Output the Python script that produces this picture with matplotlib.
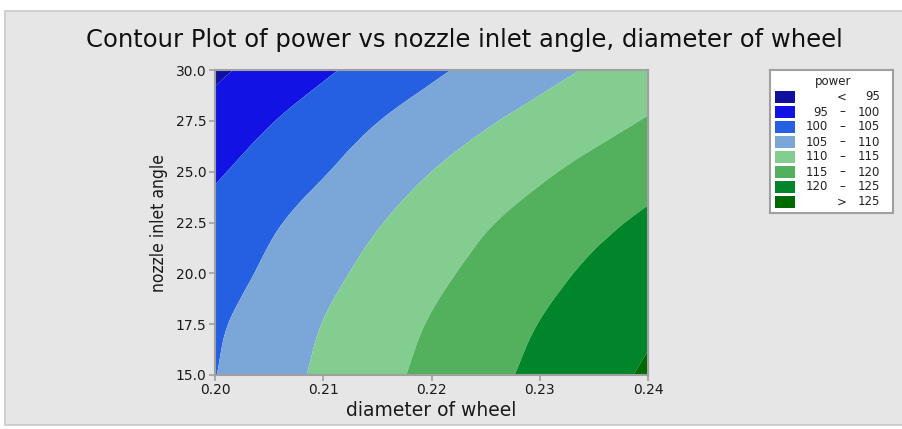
import matplotlib
matplotlib.use('Agg')
import matplotlib.pyplot as plt
import matplotlib.tri as mtri
from matplotlib.patches import Rectangle
import numpy as np

# grid of power estimates
diameter = [0.200, 0.205, 0.210, 0.215, 0.220, 0.225, 0.230, 0.235, 0.240]
angle = [15.0, 17.5, 20.0, 22.5, 25.0, 27.5, 30.0]
power = [
    [104.9, 107.9, 110.9, 113.6, 116.2, 118.7, 121.1, 123.4, 125.6],  # 15.0
    [104.3, 107.2, 110.1, 112.7, 115.3, 117.7, 120.1, 122.3, 124.3],  # 17.5
    [102.9, 105.8, 108.7, 111.4, 113.9, 116.3, 118.6, 120.8, 122.6],  # 20.0
    [101.6, 104.3, 107.0, 109.7, 112.2, 114.6, 116.7, 118.9, 120.8],  # 22.5
    [99.4, 102.1, 104.7, 107.4, 110.0, 112.2, 114.3, 116.3, 118.2],   # 25.0
    [96.8, 99.7, 102.3, 104.9, 107.2, 109.5, 111.5, 113.4, 115.3],    # 27.5
    [94.1, 96.7, 99.3, 101.8, 104.2, 106.4, 108.5, 110.5, 112.4],     # 30.0
]
levels = [80, 95, 100, 105, 110, 115, 120, 125, 140]
colors = ['#10109e', '#1212e4', '#2660e2', '#7ba6d8',
          '#82cd8f', '#53b15d', '#00852a', '#006a00']
legend_left = ['', '95', '100', '105', '110', '115', '120', '']
legend_mid = ['<', '\u2013', '\u2013', '\u2013', '\u2013', '\u2013', '\u2013', '>']
legend_right = ['95', '100', '105', '110', '115', '120', '125', '125']

fig = plt.figure(figsize=(9.03, 4.29), dpi=100)
fig.patch.set_facecolor('white')
# grey panel behind everything
panel = Rectangle((5 / 903, 4 / 429), 898 / 903, 414 / 429,
                  transform=fig.transFigure, facecolor='#e6e6e6',
                  edgecolor='#c8c8c8', linewidth=1.2, zorder=-10)
fig.add_artist(panel)

ax = fig.add_axes([215 / 903, 54 / 429, 433 / 903, 305 / 429])
ax.set_zorder(1)
X, Y = np.meshgrid(diameter, angle)
# scale x so the triangulation is not squashed, then smooth with matplotlib's refiner
tri = mtri.Triangulation(X.ravel() * 500, Y.ravel())
refiner = mtri.UniformTriRefiner(tri)
interp = mtri.CubicTriInterpolator(tri, np.array(power).ravel(), kind='geom')
tri_f, z_f = refiner.refine_field(np.array(power).ravel(), triinterpolator=interp, subdiv=3)
tri_f.x = tri_f.x / 500
ax.tricontourf(tri_f, z_f, levels=levels, colors=colors, antialiased=True)
ax.set_xlim(0.20, 0.24)
ax.set_ylim(15, 30)
ax.set_xticks([0.20, 0.21, 0.22, 0.23, 0.24])
ax.set_xticklabels(['0.20', '0.21', '0.22', '0.23', '0.24'])
ax.set_yticks([15, 17.5, 20, 22.5, 25, 27.5, 30])
ax.set_yticklabels(['15.0', '17.5', '20.0', '22.5', '25.0', '27.5', '30.0'])
for s in ax.spines.values():
    s.set_color('#a0a0a0')
    s.set_linewidth(1.5)
ax.tick_params(colors='#a0a0a0', labelcolor='#1a1a1a', labelsize=10,
               length=4, width=1.2, pad=2)

ax.set_xlabel('diameter of wheel', fontsize=13.5, color='#1a1a1a', labelpad=3)
ax.set_ylabel('nozzle inlet angle', fontsize=12.5, color='#1a1a1a', labelpad=6,
              fontstretch='condensed',
              family=['Liberation Sans Narrow', 'DejaVu Sans'])
fig.text(464 / 903, 1 - 40 / 429,
         'Contour Plot of power vs nozzle inlet angle, diameter of wheel',
         ha='center', va='center', fontsize=17.5, color='#111111')

# legend box drawn by hand
lg = fig.add_axes([770 / 903, 1 - 213 / 429, 123 / 903, 143 / 429])
lg.set_zorder(1)
lg.set_xlim(0, 123)
lg.set_ylim(143, 0)
lg.set_xticks([])
lg.set_yticks([])
lg.set_facecolor('white')
for s in lg.spines.values():
    s.set_color('#a0a0a0')
    s.set_linewidth(1.5)
lg.text(63, 11, 'power', ha='center', va='center', fontsize=8.5, color='#222222')
for i in range(len(colors)):
    yc = 27 + i * 15
    lg.add_patch(Rectangle((5, yc - 6), 20, 12, facecolor=colors[i],
                           edgecolor='none'))
    lg.text(58, yc, legend_left[i], ha='right', va='center', fontsize=8.5, color='#222222')
    lg.text(72, yc, legend_mid[i], ha='center', va='center', fontsize=8.5, color='#222222')
    lg.text(110, yc, legend_right[i], ha='right', va='center', fontsize=8.5, color='#222222')

fig.savefig('out.png', dpi=100, facecolor=fig.get_facecolor())
